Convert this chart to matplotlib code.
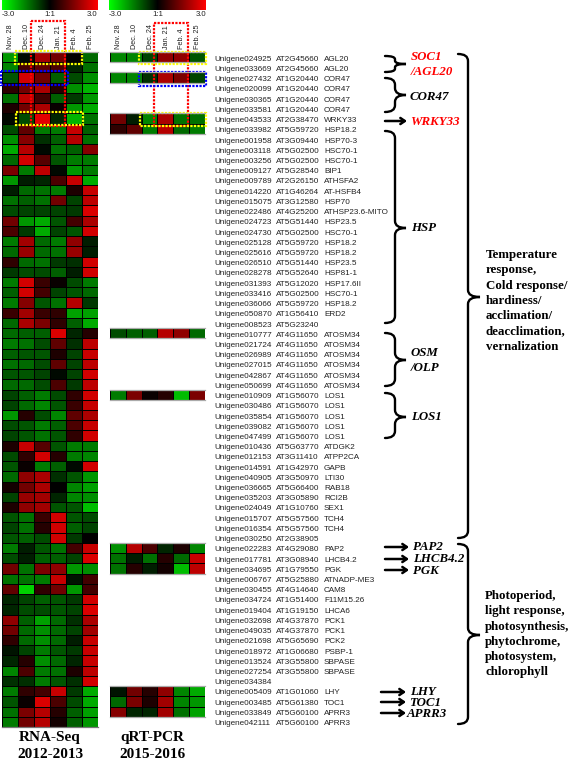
import matplotlib
matplotlib.use("Agg")
import matplotlib.pyplot as plt
import numpy as np
from matplotlib.colors import LinearSegmentedColormap
from matplotlib.path import Path
from matplotlib.patches import PathPatch, Rectangle

W, H = 568, 761

timepoints = ["Nov. 28", "Dec. 10", "Dec. 24", "Jan. 21", "Feb. 4", "Feb. 25"]

unigenes = ["024925", "033669", "027432", "020099", "030365", "033581", "043533", "033982",
            "001958", "003118", "003256", "009127", "009789", "014220", "015075", "022486",
            "024723", "024730", "025128", "025616", "026510", "028278", "031393", "033416",
            "036066", "050870", "008523", "010777", "021724", "026989", "027015", "042867",
            "050699", "010909", "030486", "035854", "039082", "047499", "010436", "012153",
            "014591", "040905", "036665", "035203", "024049", "015707", "016354", "030250",
            "022283", "017781", "034695", "006767", "030455", "034724", "019404", "032698",
            "049035", "021698", "018972", "013524", "027254", "034384", "005409", "003485",
            "033849", "042111"]

at_ids = ["AT2G45660", "AT2G45660", "AT1G20440", "AT1G20440", "AT1G20440", "AT1G20440",
          "AT2G38470", "AT5G59720", "AT3G09440", "AT5G02500", "AT5G02500", "AT5G28540",
          "AT2G26150", "AT1G46264", "AT3G12580", "AT4G25200", "AT5G51440", "AT5G02500",
          "AT5G59720", "AT5G59720", "AT5G51440", "AT5G52640", "AT5G12020", "AT5G02500",
          "AT5G59720", "AT1G56410", "AT5G23240", "AT4G11650", "AT4G11650", "AT4G11650",
          "AT4G11650", "AT4G11650", "AT4G11650", "AT1G56070", "AT1G56070", "AT1G56070",
          "AT1G56070", "AT1G56070", "AT5G63770", "AT3G11410", "AT1G42970", "AT3G50970",
          "AT5G66400", "AT3G05890", "AT1G10760", "AT5G57560", "AT5G57560", "AT2G38905",
          "AT4G29080", "AT3G08940", "AT1G79550", "AT5G25880", "AT4G14640", "AT1G51400",
          "AT1G19150", "AT4G37870", "AT4G37870", "AT5G65690", "AT1G06680", "AT3G55800",
          "AT3G55800", "", "AT1G01060", "AT5G61380", "AT5G60100", "AT5G60100"]

symbols = ["AGL20", "AGL20", "COR47", "COR47", "COR47", "COR47", "WRKY33", "HSP18.2",
           "HSP70-3", "HSC70-1", "HSC70-1", "BIP1", "ATHSFA2", "AT-HSFB4", "HSP70",
           "ATHSP23.6-MITO", "HSP23.5", "HSC70-1", "HSP18.2", "HSP18.2", "HSP23.5", "HSP81-1",
           "HSP17.6II", "HSC70-1", "HSP18.2", "ERD2", "", "ATOSM34", "ATOSM34", "ATOSM34",
           "ATOSM34", "ATOSM34", "ATOSM34", "LOS1", "LOS1", "LOS1", "LOS1", "LOS1", "ATDGK2",
           "ATPP2CA", "GAPB", "LTI30", "RAB18", "RCI2B", "SEX1", "TCH4", "TCH4", "", "PAP2",
           "LHCB4.2", "PGK", "ATNADP-ME3", "CAM8", "F11M15.26", "LHCA6", "PCK1", "PCK1", "PCK2",
           "PSBP-1", "SBPASE", "SBPASE", "", "LHY", "TOC1", "APRR3", "APRR3"]

rna_values = np.array([
    [-1.6, -0.1, 1.7, 1.2, 0.0, -1.1],
    [-1.4, 0.7, 1.0, 0.8, -0.4, -1.2],
    [-0.9, 2.2, 1.2, -1.0, -0.8, -1.5],
    [0.5, 1.2, 1.8, 0.4, -1.5, -1.9],
    [-1.2, 2.0, 0.7, -1.0, -0.6, -1.6],
    [0.3, 1.2, 1.8, 0.1, -1.6, -1.8],
    [-0.1, -0.8, 2.4, -0.4, -1.9, -1.2],
    [-0.8, 1.0, -1.3, -1.3, 2.1, -1.0],
    [-1.5, 1.4, -0.5, -1.0, 1.9, -1.2],
    [-1.8, 1.9, -0.1, -1.2, -1.0, 1.4],
    [-1.1, 2.2, 0.9, -0.9, -1.3, -1.3],
    [1.3, -1.3, 2.0, -0.1, -1.6, -1.3],
    [-1.6, -0.3, -0.4, 0.8, 2.1, -1.8],
    [-0.3, -1.1, -1.2, -1.3, 0.3, 2.1],
    [-1.2, -1.0, -1.2, 1.2, -0.7, 2.0],
    [-0.8, -0.7, -0.7, -0.7, -0.6, 2.3],
    [1.2, -1.6, -1.8, -0.9, 0.7, 1.8],
    [0.8, -0.6, -1.8, -0.7, -0.9, 2.2],
    [-1.3, 1.7, -1.1, -1.3, 1.5, -0.3],
    [-1.1, 1.6, -1.1, -1.2, 1.6, -0.3],
    [0.5, -1.1, -1.2, -0.6, -0.5, 2.2],
    [-0.6, -0.8, -0.8, -1.0, -0.3, 2.2],
    [-1.3, 2.2, 0.6, 0.1, -0.8, -1.3],
    [-1.0, 2.2, 0.7, -0.7, -0.9, -1.1],
    [-1.3, 1.4, -0.9, -1.2, 1.9, -0.6],
    [0.6, 1.7, 0.6, 0.5, -1.7, -1.7],
    [-1.1, 1.8, 1.3, 0.5, -1.0, -1.8],
    [-1.1, -1.0, -1.0, 2.3, -0.4, 0.4],
    [-1.3, -1.2, -0.8, 1.0, -0.5, 2.0],
    [-1.0, -0.9, -0.9, 0.3, -0.7, 2.1],
    [-1.2, -1.1, -0.8, 1.0, -0.7, 2.0],
    [-0.9, -0.9, -0.7, -0.1, -0.7, 2.2],
    [-1.1, -1.1, -0.8, 0.8, -0.6, 2.0],
    [-0.7, -1.0, -1.3, -0.8, 0.5, 2.2],
    [-0.7, -1.1, -1.4, -0.9, 0.6, 2.1],
    [-1.6, 0.4, -0.8, -1.4, 1.0, 1.8],
    [-0.8, -0.9, -1.3, -1.0, 0.8, 2.1],
    [-0.7, -0.9, -1.2, -0.9, 0.5, 2.2],
    [0.3, 2.1, 0.9, -0.9, -1.3, -1.3],
    [-0.8, 0.5, 2.2, 0.4, -1.3, -1.4],
    [-0.9, 0.1, -1.3, -1.0, -0.1, 2.2],
    [-1.1, 1.5, 1.8, -0.5, -0.9, -1.6],
    [0.2, 1.2, 1.8, 0.0, -1.4, -1.7],
    [-0.7, 1.6, 1.7, -0.4, -1.4, -1.5],
    [0.3, 1.5, 1.7, -0.9, -0.9, -2.0],
    [-0.9, -1.2, 0.6, 2.2, -0.9, -0.8],
    [-0.7, -1.2, 0.4, 2.2, -1.0, -0.7],
    [-0.9, -1.0, -0.8, 2.2, -0.6, 0.0],
    [-1.3, -0.3, -0.9, -1.2, 0.7, 2.1],
    [-0.8, -0.3, -1.0, -1.0, -0.7, 2.3],
    [1.2, -1.2, 1.3, 1.5, -1.6, -1.5],
    [-1.2, -1.2, -1.3, 2.1, -0.2, 0.7],
    [1.0, -2.2, 0.5, 1.2, -1.6, 0.7],
    [-0.4, -0.7, -1.0, -0.9, -0.6, 2.2],
    [-0.4, -0.8, -0.8, -0.9, -0.7, 2.3],
    [1.5, -1.0, -1.7, -1.1, -0.5, 1.8],
    [1.2, -1.1, -1.5, -1.1, -0.7, 1.7],
    [0.5, -1.1, -1.5, -1.1, -0.3, 2.1],
    [-0.2, -0.7, -1.3, -0.9, -0.6, 2.1],
    [-0.4, 0.4, -1.5, -1.1, -0.4, 2.1],
    [-1.4, 0.8, -1.3, -1.2, 0.3, 2.0],
    [-0.5, -0.5, -1.3, -0.9, -0.5, 2.2],
    [-1.3, 0.5, 0.7, 2.1, -0.6, -1.8],
    [-0.9, 0.1, 2.3, 0.8, -0.8, -1.8],
    [-1.2, 1.3, 1.9, 0.4, -1.0, -1.7],
    [-1.3, 1.2, 1.9, 0.2, -1.0, -1.6],
])

# qPCR was only done for a few genes, rows index into the list above
pcr_rows = [0, 2, 6, 7, 27, 33, 48, 49, 50, 62, 63, 64]
pcr_values = np.array([
    [-1.4, -1.4, -0.7, 1.5, 1.5, -0.9],
    [-1.4, -1.4, -0.5, 1.8, 1.3, -0.7],
    [1.2, -0.3, -1.4, 1.8, -1.2, -1.2],
    [0.5, 1.0, -1.3, 1.9, -1.1, -1.3],
    [-0.8, -1.0, -1.0, 1.9, 1.5, -1.1],
    [-1.3, 1.3, 0.1, 0.4, -2.0, 1.3],
    [-1.5, 1.9, 0.8, -0.4, 0.3, -1.4],
    [-1.2, -0.3, -1.2, 0.4, -1.1, 2.1],
    [-1.2, 0.4, -0.3, 0.2, -2.0, 2.0],
    [-0.2, 1.2, 0.4, 1.5, -1.4, -1.8],
    [-1.1, 1.3, 0.3, 1.7, -1.4, -1.6],
    [1.4, -0.4, -0.4, 1.7, -1.2, -1.7],
])

cmap = LinearSegmentedColormap.from_list("gbr", ["#00ff00", "#000000", "#ff0000"])
SERIF = "Liberation Serif"
SANS = "Liberation Sans"
TXT = "#222222"
CELL_LIM = 2.7  # cells read a little brighter than the bar scale


def px_axes(fig, x0, y0, x1, y1):
    return fig.add_axes([x0 / W, 1 - y1 / H, (x1 - x0) / W, (y1 - y0) / H])


def draw_rows(ax, values, rows):
    for r, vals in zip(rows, values):
        ax.pcolormesh(np.arange(7), [r, r + 1], vals[None, :], cmap=cmap, vmin=-CELL_LIM,
                      vmax=CELL_LIM, edgecolors="black", linewidth=0.4)
    ax.set_xlim(0, 6)
    ax.set_ylim(len(rna_values), 0)
    ax.axis("off")


def draw_colorbar(ax):
    ax.imshow(np.linspace(-3, 3, 256)[None, :], cmap=cmap, vmin=-3, vmax=3, aspect="auto")
    ax.axis("off")


fig = plt.figure(figsize=(W / 100, H / 100), dpi=100)

top, bottom = 52, 727
row_h = (bottom - top) / len(rna_values)

draw_colorbar(px_axes(fig, 2, 0, 97.5, 10))
draw_colorbar(px_axes(fig, 109, 0, 206, 10))
draw_rows(px_axes(fig, 2, top, 97.5, bottom), rna_values, range(len(rna_values)))
draw_rows(px_axes(fig, 110, top, 204.5, bottom), pcr_values, pcr_rows)

# overlay in pixel coordinates for labels and annotation
ov = fig.add_axes([0, 0, 1, 1], zorder=10)
ov.set_xlim(0, W)
ov.set_ylim(H, 0)
ov.axis("off")
ov.patch.set_alpha(0)

for x_left, x_right in [(2, 97.5), (109, 206)]:
    ov.text(x_left, 14.5, "-3.0", fontsize=5.6, family=SANS, va="center", color=TXT)
    ov.text((x_left + x_right) / 2, 14.5, "1:1", fontsize=5.6, family=SANS, va="center",
            ha="center", color=TXT)
    ov.text(x_right, 14.5, "3.0", fontsize=5.6, family=SANS, va="center", ha="right", color=TXT)

for i, t in enumerate(timepoints):
    ov.text(2 + 95.5 / 6 * (i + 0.5) + 1, 49, t, rotation=90, fontsize=5.2, family=SANS,
            ha="center", va="bottom", color=TXT)
    ov.text(110 + 94.5 / 6 * (i + 0.5) + 1, 49, t, rotation=90, fontsize=5.2, family=SANS,
            ha="center", va="bottom", color=TXT)

# grey edges of the heatmap blocks
ov.plot([2, 97.5], [top, top], color="#aaaaaa", lw=0.9)
ov.plot([2, 97.5], [bottom, bottom], color="#777777", lw=0.9)
prev = None
for r in pcr_rows:
    if prev is None or r != prev + 1:
        ov.plot([110, 204.5], [top + r * row_h] * 2, color="#aaaaaa", lw=0.9)
    if r + 1 not in pcr_rows:
        ov.plot([110, 204.5], [top + (r + 1) * row_h] * 2, color="#aaaaaa", lw=0.9)
    prev = r

for i in range(len(unigenes)):
    y = 59.3 + i * 10.22
    ov.text(214, y, "Unigene" + unigenes[i], fontsize=5.9, family=SANS, va="center", color=TXT)
    ov.text(276, y, at_ids[i], fontsize=5.9, family=SANS, va="center", color=TXT)
    ov.text(324, y, symbols[i], fontsize=5.9, family=SANS, va="center", color=TXT)

# dotted selection boxes
dots = (0, (1, 0.6))
for x0, y0, x1, y1, c in [(31, 21, 65, 126, "#ff0000"), (154, 23, 188, 126, "#ff0000"),
                          (15, 51, 82, 64, "#ffff00"), (16, 112, 83, 125, "#ffff00"),
                          (139, 52, 206, 64, "#ffff00"), (140, 113, 206, 126, "#ffff00"),
                          (1, 71, 68, 85, "#0000ff"), (139, 72, 206, 86, "#0000ff")]:
    ov.add_patch(Rectangle((x0, y0), x1 - x0, y1 - y0, fill=False, edgecolor=c,
                           lw=1.6, linestyle=dots))


def brace(x0, y0, y1, tip_x, tip_y, lw=1.7):
    sx = x0 + 10
    r = min(7, (y1 - y0) / 5)
    verts = [(x0, y0), (sx, y0), (sx, y0 + r), (sx, tip_y - r), (sx, tip_y), (tip_x, tip_y),
             (sx, tip_y), (sx, tip_y + r), (sx, y1 - r), (sx, y1), (x0, y1)]
    codes = [Path.MOVETO, Path.CURVE3, Path.CURVE3, Path.LINETO, Path.CURVE3, Path.CURVE3,
             Path.CURVE3, Path.CURVE3, Path.LINETO, Path.CURVE3, Path.CURVE3]
    ov.add_patch(PathPatch(Path(verts, codes), fill=False, edgecolor="black", lw=lw,
                           capstyle="round"))


def arrow(x0, x1, y):
    ov.annotate("", xy=(x1, y), xytext=(x0, y),
                arrowprops=dict(arrowstyle="->,head_width=0.22,head_length=0.32", color="black",
                                lw=1.8, shrinkA=0, shrinkB=0))


for x0, y0, y1, tip_x, tip_y in [(385, 56, 72, 406, 64), (385, 78, 112, 406, 95),
                                 (385, 131, 323, 406, 228), (385, 333, 386, 406, 360),
                                 (385, 393, 438, 406, 417), (458, 54, 538, 480, 297),
                                 (458, 544, 724, 480, 635)]:
    brace(x0, y0, y1, tip_x, tip_y)

for x0, x1, y in [(385, 407, 121), (385, 409, 547), (385, 409, 559), (385, 409, 570),
                  (381, 406, 692), (381, 406, 702), (381, 406, 713)]:
    arrow(x0, x1, y)

for x, y, s, c in [(411, 57, "SOC1", "#ff0000"), (411, 72, "/AGL20", "#ff0000"),
                   (410, 97, "COR47", "black"), (410, 122, "WRKY33", "#ff0000"),
                   (411, 228, "HSP", "black"), (411, 353, "OSM", "black"),
                   (411, 368, "/OLP", "black"), (411, 417, "LOS1", "black"),
                   (413, 547, "PAP2", "black"), (413, 559, "LHCB4.2", "black"),
                   (413, 571, "PGK", "black"), (410, 692, "LHY", "black"),
                   (409, 703, "TOC1", "black"), (407, 714, "APRR3", "black")]:
    ov.text(x, y, s, color=c, family=SERIF, fontsize=9.3, fontweight="bold", style="italic",
            va="center")

temp_lines = ["Temperature", "response,", "Cold response/", "hardiness/", "acclimation/",
              "deacclimation,", "vernalization"]
light_lines = ["Photoperiod,", "light response,", "photosynthesis,", "phytochrome,",
               "photosystem,", "chlorophyll"]
for lines, x, y0 in [(temp_lines, 486, 255), (light_lines, 485, 596)]:
    for i, s in enumerate(lines):
        ov.text(x, y0 + i * 15.3, s, family=SERIF, fontsize=9.3, fontweight="bold", va="center")

for x, a, b in [(50, "RNA-Seq", "2012-2013"), (152, "qRT-PCR", "2015-2016")]:
    ov.text(x, 738, a, family=SERIF, fontsize=11, fontweight="bold", ha="center", va="center")
    ov.text(x, 755, b, family=SERIF, fontsize=11, fontweight="bold", ha="center", va="center")

fig.savefig("out.png", dpi=100)
